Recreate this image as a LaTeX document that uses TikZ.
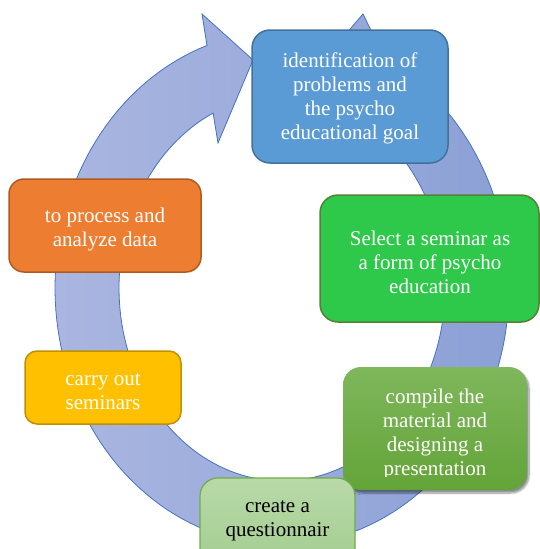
\documentclass[tikz,border=0pt]{standalone}
\usepackage{fontspec}
\setmainfont{Liberation Serif}
\usetikzlibrary{shadows.blur}
\definecolor{ringL}{RGB}{170,182,224}
\definecolor{ringR}{RGB}{140,160,214}
\definecolor{ringE}{RGB}{68,114,196}
\definecolor{blueF}{RGB}{91,155,213}
\definecolor{blueE}{RGB}{65,113,156}
\definecolor{greenF}{RGB}{46,200,74}
\definecolor{greenE}{RGB}{84,130,53}
\definecolor{dgreenT}{RGB}{127,183,92}
\definecolor{dgreenB}{RGB}{99,164,56}
\definecolor{lgreenT}{RGB}{184,217,168}
\definecolor{lgreenB}{RGB}{158,203,138}
\definecolor{lgreenE}{RGB}{112,173,71}
\definecolor{yellowF}{RGB}{255,192,0}
\definecolor{yellowE}{RGB}{191,144,0}
\definecolor{orangeF}{RGB}{237,125,49}
\definecolor{orangeE}{RGB}{174,90,33}
\begin{document}
\begin{tikzpicture}[x=1pt,y=-1pt,
  ring/.style={draw=ringE, line width=0.8pt, left color=ringL, right color=ringR},
  proc/.style={line width=1.5pt, rounded corners=18pt, inner sep=0pt},
  label/.style={inner sep=0pt, align=center, font=\fontsize{21}{24}\selectfont, text=white}]
\useasboundingbox (0,0) rectangle (540,549);
\clip (0,0) rectangle (540,549);
% circular arrow
\path[ring] plot[domain=63:-250.7, samples=150] ({282+227*cos(\x)},{288-257*sin(\x)})
  -- (202,14) -- (253,60) -- (218,143)
  -- plot[domain=-245:68, samples=150] ({282+163*cos(\x)},{288-193*sin(\x)})
  -- (320,64) -- (363,14) -- cycle;
% boxes
\node[proc, draw=blueE, fill=blueF, minimum width=196pt, minimum height=133pt]
  (s1) at (350,96.5) {};
\node[label] (t1) at (350,98.5) {identification of\\problems and\\the psycho\\educational goal};
\node[proc, draw=greenE, fill=greenF, minimum width=219pt, minimum height=127pt]
  (s2) at (429.5,258.5) {};
\node[label] (t2) at (430,262) {Select a seminar as\\a form of psycho\\education};
\node[proc, draw=none, top color=dgreenT, bottom color=dgreenB,
  minimum width=184pt, minimum height=123pt,
  blur shadow={shadow xshift=2pt, shadow yshift=-3pt, shadow blur steps=8, shadow opacity=45}]
  (s3) at (435,428.5) {};
\begin{scope}
\clip (343,367) rectangle (527,476.5);
\node[label] (t3) at (435,434.5) {compile the\\material and\\designing a\\presentation};
\end{scope}
\node[proc, draw=lgreenE, top color=lgreenT, bottom color=lgreenB, line width=1.2pt,
  minimum width=155pt, minimum height=112pt] (s4) at (277.5,534) {};
\node[label, text=black] (t4) at (277.5,521) {create a\\questionnair};
\node[proc, draw=yellowE, fill=yellowF, rounded corners=12pt,
  minimum width=156pt, minimum height=73pt] (s5) at (103,387.5) {};
\node[label] (t5) at (103,391.5) {carry out\\seminars};
\node[proc, draw=orangeE, fill=orangeF, rounded corners=15pt,
  minimum width=192pt, minimum height=93pt] (s6) at (105,225.5) {};
\node[label] (t6) at (105,229) {to process and\\analyze data};
\end{tikzpicture}
\end{document}
